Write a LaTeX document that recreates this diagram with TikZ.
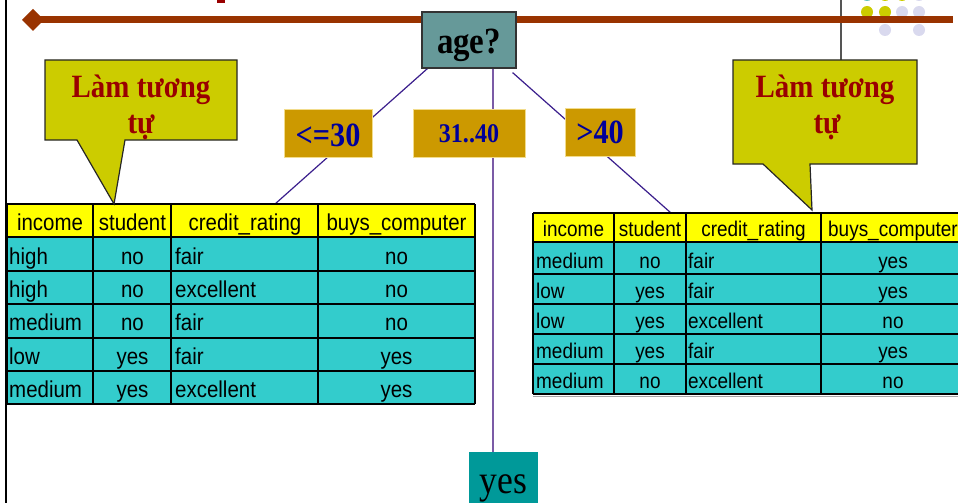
\documentclass[tikz,border=0pt]{standalone}
\usepackage{fontspec}
\setmainfont{Liberation Serif}
\newfontfamily\serf[FakeStretch=0.89]{Liberation Serif}
\newfontfamily\tabf[FakeStretch=0.89]{Liberation Sans}
\usetikzlibrary{backgrounds,calc}
\definecolor{brn}{HTML}{993300}
\definecolor{agefill}{HTML}{669999}
\definecolor{gold}{HTML}{CC9900}
\definecolor{goldedge}{HTML}{F2DC8C}
\definecolor{lblue}{HTML}{000099}
\definecolor{tealyes}{HTML}{009999}
\definecolor{callfill}{HTML}{CCCC00}
\definecolor{redtxt}{HTML}{990000}
\definecolor{hdrfill}{HTML}{FFFF00}
\definecolor{bodfill}{HTML}{33CCCC}
\definecolor{diagc}{HTML}{3A1E8C}
\definecolor{vertc}{HTML}{7B5BA6}
\definecolor{dotY}{HTML}{CCCC00}
\definecolor{dotL}{HTML}{D9D9EE}
\definecolor{grayl}{HTML}{555555}
\tikzset{
  lblbox/.style={fill=gold, draw=goldedge, line width=0.8pt, inner sep=0pt, text=lblue},
  diag/.style={draw=diagc, line width=1.2pt},
  vline/.style={draw=vertc, line width=2pt},
  grid/.style={draw=black, line width=1.4pt},
  calloutshape/.style={fill=callfill, draw=black!85, line width=1.2pt, line join=miter},
  calltxt/.style={inner sep=0pt, anchor=base, text=redtxt, font=\serf\bfseries\fontsize{32.5}{36}\selectfont},
  ltx/.style={inner sep=0pt, font=\tabf\fontsize{23}{23}\selectfont},
  rtx/.style={inner sep=0pt, font=\tabf\fontsize{21.3}{21.3}\selectfont},
}
\begin{document}
\begin{tikzpicture}[x=1pt,y=-1pt]
\useasboundingbox (0,0) rectangle (958,503);
\clip (0,0) rectangle (958,503);

% frame lines
\draw[black, line width=2pt] (6,0) -- (6,503);
\draw[grayl, line width=1.5pt] (841,0) -- (841,60);
\fill[redtxt] (217,0) rectangle (225,3);

% dots
\foreach \x/\c in {867/tealyes!60, 885/dotY, 902/dotY, 919/dotL} \fill[\c] (\x,-5) circle (6);
\foreach \x/\c in {867/dotY, 885/dotY, 902/dotL, 919/dotL} \fill[\c] (\x,12) circle (6);
\foreach \x in {885, 919} \fill[dotL] (\x,30) circle (6);

% title rule
\draw[brn, line width=7pt] (33,20) -- (953,20);
\fill[brn] (22,20) -- (33,9) -- (44,20) -- (33,31) -- cycle;

% root and branch labels
\node[fill=agefill, draw=black!80, line width=1.2pt, inner sep=0pt, minimum width=94pt, minimum height=56pt,
      text height=26pt, text depth=0pt, font=\serf\bfseries\fontsize{37}{37}\selectfont] (age) at (469,40) {age?};
\node[lblbox, minimum width=88pt, minimum height=48pt, text height=26pt, text depth=0pt,
      font=\serf\bfseries\fontsize{34}{34}\selectfont] (le30) at (328,133) {<=30};
\node[lblbox, minimum width=112pt, minimum height=48pt, text height=18pt, text depth=0pt,
      font=\serf\bfseries\fontsize{27}{27}\selectfont] (mid) at (469,133) {31..40};
\node[lblbox, minimum width=70pt, minimum height=48pt, text height=23pt, text depth=0pt,
      font=\serf\bfseries\fontsize{34}{34}\selectfont] (gt40) at (600,132) {>40};
\node[fill=tealyes, inner sep=0pt, minimum width=69pt, minimum height=62pt, text height=20pt, text depth=0pt,
      font=\serf\fontsize{40}{40}\selectfont] (yes) at (503.5,483) {yes};

% left table
\fill[hdrfill] (7,204) rectangle (475,237);
\fill[bodfill] (7,237) rectangle (475,404);
\foreach \y in {204,237,271,304,338,371,404} \draw[grid] (7,\y) -- (475,\y);
\foreach \x in {7,93,171,318,475} \draw[grid] (\x,204) -- (\x,404);
\node[ltx, anchor=base] (Lh1) at (50,230) {income};
\node[ltx, anchor=base] (Lh2) at (132.5,230) {student};
\node[ltx, anchor=base] (Lh3) at (245,230) {credit\_rating};
\node[ltx, anchor=base] (Lh4) at (396.5,230) {buys\_computer};
\foreach \a/\b/\c/\d [count=\r] in {high/no/fair/no, high/no/excellent/no, medium/no/fair/no, low/yes/fair/yes, medium/yes/excellent/yes} {
  \pgfmathsetmacro\yb{264+33.4*(\r-1)}
  \node[ltx, anchor=base west] (L\r a) at (9,\yb) {\a};
  \node[ltx, anchor=base] (L\r b) at (132.5,\yb) {\b};
  \node[ltx, anchor=base west] (L\r c) at (175,\yb) {\c};
  \node[ltx, anchor=base] (L\r d) at (396.5,\yb) {\d};
}
\coordinate (ltop) at (275,204);

% right table
\fill[hdrfill] (533,213) rectangle (965,242);
\fill[bodfill] (533,242) rectangle (965,394);
\draw[black!35, line width=1pt] (533,396) -- (965,396);
\foreach \y in {213,242,274,304,334,364,394} \draw[grid] (533,\y) -- (965,\y);
\foreach \x in {533,614,686,821,965} \draw[grid] (\x,213) -- (\x,394);
\node[rtx, anchor=base] (Rh1) at (573.5,236) {income};
\node[rtx, anchor=base] (Rh2) at (650,236) {student};
\node[rtx, anchor=base] (Rh3) at (753.5,236) {credit\_rating};
\node[rtx, anchor=base] (Rh4) at (893,236) {buys\_computer};
\foreach \a/\b/\c/\d [count=\r] in {medium/no/fair/yes, low/yes/fair/yes, low/yes/excellent/no, medium/yes/fair/yes, medium/no/excellent/no} {
  \pgfmathsetmacro\yb{268+30*(\r-1)}
  \node[rtx, anchor=base west] (R\r a) at (536,\yb) {\a};
  \node[rtx, anchor=base] (R\r b) at (650,\yb) {\b};
  \node[rtx, anchor=base west] (R\r c) at (688,\yb) {\c};
  \node[rtx, anchor=base] (R\r d) at (893,\yb) {\d};
}
\coordinate (rtop) at (671,213);

% callouts
\draw[calloutshape] (45,60) -- (237,60) -- (237,140) -- (125,140) -- (114,204) -- (77,140) -- (45,140) -- cycle;
\node[calltxt] (c1a) at (141,97) {Làm tương};
\node[calltxt] (c1b) at (141,133) {tự};
\draw[calloutshape] (733,60) -- (917,60) -- (917,164) -- (810,164) -- (812,210) -- (763,164) -- (733,164) -- cycle;
\node[calltxt] (c2a) at (825,97) {Làm tương};
\node[calltxt] (c2b) at (827,133) {tự};

% connectors (behind the label boxes)
\begin{pgfonlayer}{background}
\draw[diag] ($(age.south west)+(6,0)$) -- (ltop);
\draw[diag] ($(age.south east)+(-4,4)$) -- (rtop);
\draw[vline] ($(age.south)+(24,0)$) -- (yes.north -| {$(age.south)+(24,0)$});
\end{pgfonlayer}
\end{tikzpicture}
\end{document}
